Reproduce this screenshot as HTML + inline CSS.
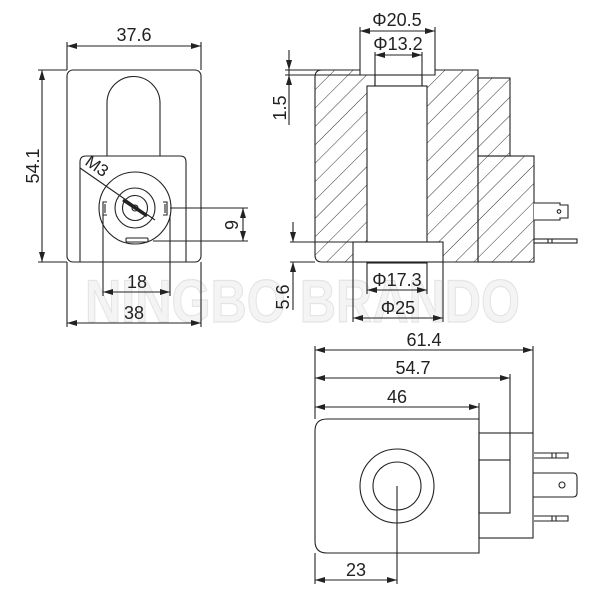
<!DOCTYPE html>
<html><head><style>html,body{margin:0;padding:0;background:#fff}svg{display:block}</style></head>
<body>
<svg width="600" height="600" viewBox="0 0 600 600" xmlns="http://www.w3.org/2000/svg" font-family="Liberation Sans, sans-serif">
<defs>
<pattern id="h" patternUnits="userSpaceOnUse" width="13" height="13" patternTransform="rotate(45)">
<line x1="0" y1="0" x2="0" y2="13" stroke="#333" stroke-width="1"/>
</pattern>
<marker id="a" viewBox="0 0 10 6" refX="10" refY="3" markerWidth="10" markerHeight="6" orient="auto-start-reverse" markerUnits="userSpaceOnUse">
<path d="M0,0 L10,3 L0,6 z" fill="#222"/>
</marker>
</defs>
<text x="85" y="322" font-size="60" font-weight="bold" fill="#f4f4f4" stroke="#e4e4e4" stroke-width="1.2" textLength="435" lengthAdjust="spacingAndGlyphs">NINGBO BRANDO</text>

<g fill="none" stroke="#222" stroke-width="1.1">
<rect x="67" y="70" width="134" height="192" rx="6"/>
<path d="M107,156 V103 A26.5,26.5 0 0 1 160,103 V156"/>
<path d="M80,262 V162 Q80,156 86,156 H180 Q186,156 186,162 V262"/>
<circle cx="135" cy="208" r="36"/>
<circle cx="135" cy="208" r="20"/>
<circle cx="135" cy="208" r="12.5"/>
<circle cx="135" cy="208" r="3"/>
<path d="M107,202 h-4 v13 h4 M105,204 v9"/>
<path d="M163,202 h4 v13 h-4 M165,204 v9"/>
<rect x="126" y="238" width="22" height="4" rx="1"/>
<line x1="80" y1="168" x2="155" y2="220"/>
<line x1="123" y1="200" x2="147" y2="216" stroke-width="3"/>
<line x1="67" y1="42" x2="67" y2="70"/><line x1="201" y1="42" x2="201" y2="70"/>
<line x1="67" y1="46" x2="201" y2="46" marker-start="url(#a)" marker-end="url(#a)"/>
<line x1="38" y1="70" x2="67" y2="70"/><line x1="38" y1="262" x2="67" y2="262"/>
<line x1="42" y1="70" x2="42" y2="262" marker-start="url(#a)" marker-end="url(#a)"/>
<line x1="170" y1="208" x2="248" y2="208"/><line x1="153" y1="241" x2="248" y2="241"/>
<line x1="243" y1="208" x2="243" y2="241" marker-start="url(#a)" marker-end="url(#a)"/>
<line x1="103" y1="215" x2="103" y2="296"/><line x1="170" y1="215" x2="170" y2="296"/>
<line x1="103" y1="292" x2="170" y2="292" marker-start="url(#a)" marker-end="url(#a)"/>
<line x1="67" y1="262" x2="67" y2="327"/><line x1="201" y1="262" x2="201" y2="327"/>
<line x1="67" y1="323" x2="201" y2="323" marker-start="url(#a)" marker-end="url(#a)"/>

<path d="M322,70 H478 V262 H322 Q315,262 315,255 V77 Q315,70 322,70 Z" fill="url(#h)"/>
<rect x="478" y="78" width="32" height="78" fill="url(#h)"/>
<rect x="478" y="156" width="56" height="106" fill="url(#h)"/>
<rect x="360" y="69" width="75" height="6" fill="#fff" stroke="none"/>
<path d="M360,70 V75 H435 V70"/>
<rect x="375" y="75" width="47" height="11" fill="#fff"/>
<rect x="367" y="86" width="60" height="177" fill="#fff"/>
<rect x="353" y="242" width="90" height="20" fill="#fff"/>
<line x1="353" y1="262" x2="443" y2="262"/>
<path d="M534,203 H560 V205 H568 V218 H560 V220 H534" fill="#fff"/>
<circle cx="559" cy="211.5" r="1.8"/>
<rect x="534" y="239" width="43" height="4" fill="#fff"/>
<line x1="548" y1="239" x2="548" y2="243"/><line x1="552" y1="239" x2="552" y2="243"/>
<line x1="360" y1="27" x2="360" y2="70"/><line x1="435" y1="27" x2="435" y2="70"/>
<line x1="360" y1="31" x2="435" y2="31" marker-start="url(#a)" marker-end="url(#a)"/>
<line x1="375" y1="52" x2="375" y2="86"/><line x1="422" y1="52" x2="422" y2="86"/>
<line x1="375" y1="55" x2="422" y2="55" marker-start="url(#a)" marker-end="url(#a)"/>
<line x1="285" y1="70" x2="360" y2="70"/><line x1="285" y1="75" x2="360" y2="75"/>
<line x1="289" y1="50" x2="289" y2="70" marker-end="url(#a)"/>
<line x1="289" y1="125" x2="289" y2="75" marker-end="url(#a)"/>
<line x1="289" y1="70" x2="289" y2="75"/>
<line x1="290" y1="242" x2="353" y2="242"/><line x1="290" y1="262" x2="315" y2="262"/>
<line x1="293" y1="222" x2="293" y2="242" marker-end="url(#a)"/>
<line x1="293" y1="310" x2="293" y2="262" marker-end="url(#a)"/>
<line x1="367" y1="262" x2="367" y2="294"/><line x1="427" y1="262" x2="427" y2="294"/>
<line x1="367" y1="290" x2="427" y2="290" marker-start="url(#a)" marker-end="url(#a)"/>
<line x1="353" y1="262" x2="353" y2="322"/><line x1="443" y1="262" x2="443" y2="322"/>
<line x1="353" y1="318" x2="443" y2="318" marker-start="url(#a)" marker-end="url(#a)"/>

<path d="M327,419 H479 V553 H327 Q315,553 315,541 V431 Q315,419 327,419 Z"/>
<rect x="479" y="433" width="54" height="105"/>
<rect x="479" y="460" width="31" height="53"/>
<circle cx="397" cy="486" r="37"/>
<circle cx="397" cy="486" r="24"/>
<line x1="397" y1="486" x2="397" y2="584"/>
<path d="M534,453 H568 V458 H534"/><line x1="552" y1="453" x2="552" y2="458"/><line x1="556" y1="453" x2="556" y2="458"/>
<path d="M534,516 H568 V521 H534"/><line x1="552" y1="516" x2="552" y2="521"/><line x1="556" y1="516" x2="556" y2="521"/>
<path d="M533,473 H573 Q577,473 577,477 V493 Q577,497 573,497 H533"/>
<circle cx="562" cy="485" r="3"/>
<line x1="315" y1="346" x2="315" y2="419"/>
<line x1="533" y1="346" x2="533" y2="433"/>
<line x1="510" y1="374" x2="510" y2="460"/>
<line x1="479" y1="403" x2="479" y2="419"/>
<line x1="315" y1="350" x2="533" y2="350" marker-start="url(#a)" marker-end="url(#a)"/>
<line x1="315" y1="378" x2="510" y2="378" marker-start="url(#a)" marker-end="url(#a)"/>
<line x1="315" y1="407" x2="479" y2="407" marker-start="url(#a)" marker-end="url(#a)"/>
<line x1="315" y1="553" x2="315" y2="584"/>
<line x1="315" y1="580" x2="397" y2="580" marker-start="url(#a)" marker-end="url(#a)"/>
</g>

<g fill="#222" font-size="18">
<text x="134" y="41" text-anchor="middle">37.6</text>
<text transform="translate(39,166) rotate(-90)" text-anchor="middle">54.1</text>
<text transform="translate(84,164) rotate(35)" font-size="17">M3</text>
<text transform="translate(238,225) rotate(-90)" text-anchor="middle">9</text>
<text x="137" y="288" text-anchor="middle">18</text>
<text x="134" y="319" text-anchor="middle">38</text>
<text x="397" y="26" text-anchor="middle">Φ20.5</text>
<text x="398" y="50" text-anchor="middle">Φ13.2</text>
<text transform="translate(286,108) rotate(-90)" text-anchor="middle">1.5</text>
<text transform="translate(289,297) rotate(-90)" text-anchor="middle">5.6</text>
<text x="397" y="286" text-anchor="middle">Φ17.3</text>
<text x="398" y="314" text-anchor="middle">Φ25</text>
<text x="424" y="346" text-anchor="middle">61.4</text>
<text x="413" y="374" text-anchor="middle">54.7</text>
<text x="397" y="403" text-anchor="middle">46</text>
<text x="356" y="576" text-anchor="middle">23</text>
</g>
</svg>
</body></html>
